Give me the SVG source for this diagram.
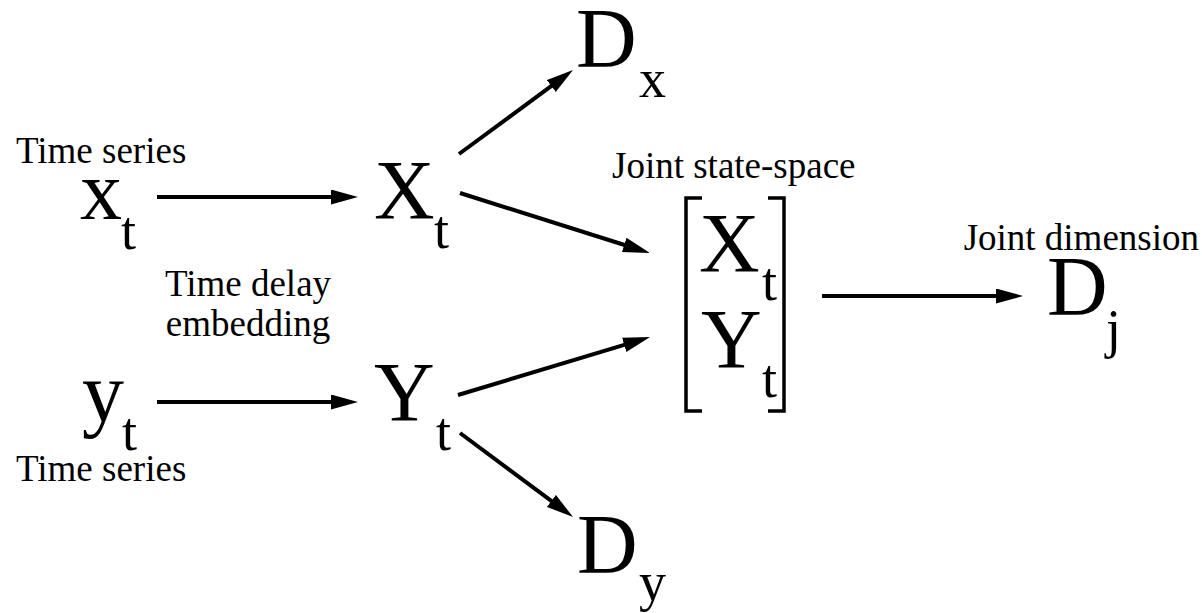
<svg xmlns="http://www.w3.org/2000/svg" width="1202" height="613" viewBox="0 0 1202 613">
<style>
text{fill:#000}
.big{font-size:84px}
.sub{font-size:54px}
.lbl{font-size:37px}
.c{stroke:#000;stroke-width:4;fill:none}
.br{stroke:#000;stroke-width:3.5;fill:none}
</style>
<defs>
<marker id="ah" markerUnits="userSpaceOnUse" markerWidth="28" markerHeight="16" refX="7" refY="7.5" orient="auto">
<path d="M0,0 L27,7.5 L0,15 z" fill="#000"/>
</marker>
</defs>
<rect width="1202" height="613" fill="#fff"/>
<g id="connectors">
<line class="c" x1="157" y1="197" x2="338" y2="197" marker-end="url(#ah)"/>
<line class="c" x1="157" y1="402" x2="338" y2="402" marker-end="url(#ah)"/>
<line class="c" x1="459" y1="154" x2="556.9" y2="81.9" marker-end="url(#ah)"/>
<line class="c" x1="460" y1="193" x2="630.9" y2="247" marker-end="url(#ah)"/>
<line class="c" x1="458" y1="395" x2="630.9" y2="342.8" marker-end="url(#ah)"/>
<line class="c" x1="460" y1="433" x2="557" y2="505.1" marker-end="url(#ah)"/>
<line class="c" x1="822" y1="296" x2="1003" y2="296" marker-end="url(#ah)"/>
</g>
<g font-family="Liberation Serif, Times New Roman, DejaVu Serif, serif">
<g id="xt">
<text class="lbl" x="16" y="163">Time series</text>
<text class="big" x="80" y="219">x</text>
<text class="sub" x="121" y="249">t</text>
</g>
<g id="yt">
<text class="big" x="82" y="421">y</text>
<text class="sub" x="122" y="450">t</text>
<text class="lbl" x="16" y="481">Time series</text>
</g>
<g id="embedding">
<text class="lbl" x="248" y="296" text-anchor="middle">Time delay</text>
<text class="lbl" x="248" y="336" text-anchor="middle">embedding</text>
</g>
<g id="Xt">
<text class="big" x="374" y="219">X</text>
<text class="sub" x="434" y="248">t</text>
</g>
<g id="Yt">
<text class="big" x="374" y="421">Y</text>
<text class="sub" x="436" y="450">t</text>
</g>
<g id="Dx">
<text class="big" x="576" y="67">D</text>
<text class="sub" x="639" y="97">x</text>
</g>
<g id="Dy">
<text class="big" x="577" y="573">D</text>
<text class="sub" x="639" y="600">y</text>
</g>
<g id="joint">
<text class="lbl" x="612" y="178">Joint state-space</text>
<path class="br" d="M702,198 H686 V411 H702"/>
<path class="br" d="M768,198 H784 V411 H768"/>
<text class="big" x="699" y="272">X</text>
<text class="sub" x="762" y="300">t</text>
<text class="big" x="701" y="368">Y</text>
<text class="sub" x="762" y="397">t</text>
</g>
<g id="Dj">
<text class="lbl" x="1199" y="250" text-anchor="end">Joint dimension</text>
<text class="big" x="1047" y="315">D</text>
<text class="sub" x="1106" y="347">j</text>
</g>
</g>
</svg>
